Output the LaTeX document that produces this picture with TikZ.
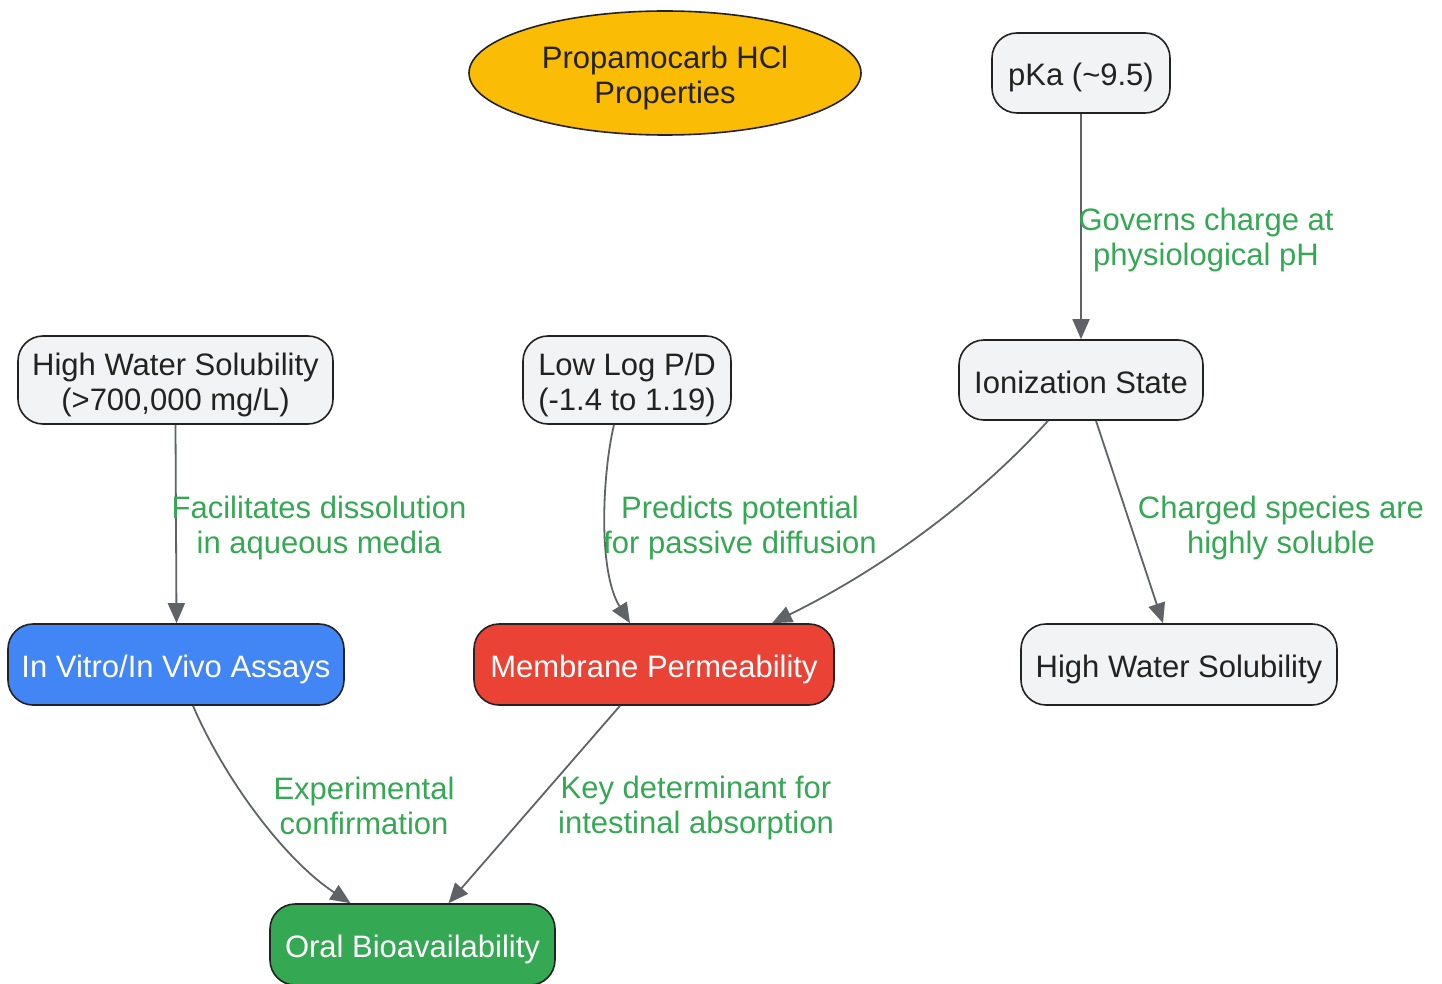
\documentclass[tikz,border=0pt]{standalone}
\usepackage{fontspec}
\setmainfont{Liberation Sans}
\usetikzlibrary{arrows.meta,shapes.geometric}
\definecolor{nodegray}{HTML}{F1F3F4}
\definecolor{edgegray}{HTML}{5F6368}
\definecolor{lblgreen}{HTML}{34A853}
\definecolor{gyellow}{HTML}{FBBC05}
\definecolor{gred}{HTML}{EA4335}
\definecolor{gblue}{HTML}{4285F4}
\definecolor{ggreen}{HTML}{34A853}
\definecolor{txt}{HTML}{222222}
\newcommand\topstrut{\rule{0pt}{32pt}}
\newcommand\botstrut{\rule[-6pt]{0pt}{6pt}}
\tikzset{
  box/.style={draw=txt, line width=1.6pt, rounded corners=25pt, fill=nodegray,
    text=txt, align=center, inner sep=0pt,
    font=\fontsize{31}{35}\selectfont},
  edge/.style={draw=edgegray, line width=1.8pt, -{Triangle[length=20pt,width=17pt]}},
  lbl/.style={text=lblgreen, align=center, font=\fontsize{31}{35}\selectfont, inner sep=0pt},
}
\begin{document}
\begin{tikzpicture}[x=1pt,y=-1pt]
\useasboundingbox (0,0) rectangle (1442,984);
\node[ellipse, draw=txt, line width=1.6pt, fill=gyellow, text=txt, align=center,
  minimum width=392pt, minimum height=124pt, inner sep=0pt,
  font=\fontsize{31}{35}\selectfont] (title) at (665,73) {\topstrut Propamocarb HCl\\Properties\botstrut};
\node[box, minimum width=178pt, minimum height=80pt] (pka) at (1081,73) {\topstrut pKa (\textasciitilde9.5)\botstrut};
\node[box, minimum width=315pt, minimum height=88pt] (hws1) at (175.5,380) {\topstrut High Water Solubility\\(>700,000 mg/L)\botstrut};
\node[box, minimum width=208pt, minimum height=88pt] (lowlog) at (627,380) {\topstrut Low Log P/D\\(-1.4 to 1.19)\botstrut};
\node[box, minimum width=244pt, minimum height=80pt] (ion) at (1081,380) {\topstrut Ionization State\botstrut};
\node[box, fill=gblue, text=white, minimum width=336pt, minimum height=81pt] (assay) at (176,664.5) {\topstrut In Vitro/In Vivo Assays\botstrut};
\node[box, fill=gred, text=white, minimum width=360pt, minimum height=81pt] (memb) at (654,664.5) {\topstrut Membrane Permeability\botstrut};
\node[box, minimum width=316pt, minimum height=81pt] (hws2) at (1179,664.5) {\topstrut High Water Solubility\botstrut};
\node[box, fill=ggreen, text=white, minimum width=285pt, minimum height=81pt] (oral) at (412.5,944.5) {\topstrut Oral Bioavailability\botstrut};

\draw[edge] (pka.south) -- (ion.north);
\draw[edge] (hws1.south) -- ([xshift=0.5pt]assay.north);
\draw[edge] ([xshift=-13pt]lowlog.south) .. controls (603,470) and (597,570) .. ([xshift=-24pt]memb.north);
\draw[edge] ([xshift=-33pt]ion.south) .. controls (990,485) and (900,560) .. ([xshift=118pt]memb.north);
\draw[edge] ([xshift=15pt]ion.south) -- ([xshift=-16pt]hws2.north);
\draw[edge] ([xshift=17pt]assay.south) .. controls (225,780) and (285,860) .. ([xshift=-62pt]oral.north);
\draw[edge] ([xshift=-34pt]memb.south) -- ([xshift=36pt]oral.north);

\node[lbl] (l1) at (1206,235.5) {\topstrut Governs charge at\\physiological pH\botstrut};
\node[lbl] (l2) at (319,523.5) {\topstrut Facilitates dissolution\\in aqueous media\botstrut};
\node[lbl] (l3) at (740,523.5) {\topstrut Predicts potential\\for passive diffusion\botstrut};
\node[lbl] (l4) at (1281,523.5) {\topstrut Charged species are\\highly soluble\botstrut};
\node[lbl] (l5) at (364,803.5) {\topstrut Experimental\\confirmation\botstrut};
\node[lbl] (l6) at (696,803.5) {\topstrut Key determinant for\\intestinal absorption\botstrut};
\end{tikzpicture}
\end{document}
